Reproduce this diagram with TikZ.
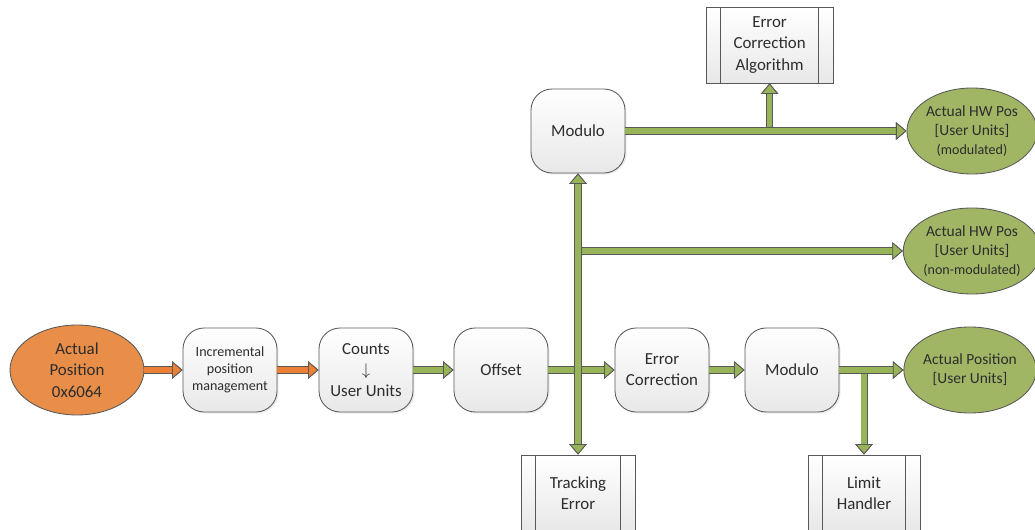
\documentclass[tikz,border=0pt]{standalone}
\usepackage{fontspec}
\setmainfont{Carlito}
\usetikzlibrary{arrows.meta,shapes.geometric,shadows}
\definecolor{flOrange} {RGB}{232,142, 72}
\definecolor{flOrangeA}{RGB}{236,128, 52}
\definecolor{flGreen}  {RGB}{160,182,100}
\definecolor{flGreenA} {RGB}{152,180, 88}
\definecolor{flEdge}   {RGB}{ 88, 88, 88}
\definecolor{flBox}    {RGB}{232,232,232}
\definecolor{flText}   {RGB}{ 45, 45, 45}
\tikzset{
  gtip/.tip={Triangle[length=7.5pt,width=12.5pt,line width=0.6pt,fill=flGreenA,color=flEdge]},
  otip/.tip={Triangle[length=7.5pt,width=12.5pt,line width=0.6pt,fill=flOrangeA,color=flEdge]}
}

\begin{document}
\begin{tikzpicture}[
  every node/.style={font=\fontsize{12}{15}\selectfont,text=flText},
  box/.style={draw=flEdge,line width=0.6pt,rounded corners=15pt,
              top color=white,bottom color=flBox,
              minimum width=2.35cm,minimum height=2.1cm,align=center,
              drop shadow={opacity=0.15,shadow xshift=0.04cm,shadow yshift=-0.04cm}},
  sub/.style={draw=flEdge,line width=0.6pt,top color=white,bottom color=flBox,
              minimum height=1.9cm,align=center,
              path picture={
                \draw[flEdge,line width=0.6pt]
                  ([xshift=0.36cm]path picture bounding box.north west) --
                  ([xshift=0.36cm]path picture bounding box.south west)
                  ([xshift=-0.36cm]path picture bounding box.north east) --
                  ([xshift=-0.36cm]path picture bounding box.south east);}},
  term/.style={ellipse,draw=flEdge,line width=0.6pt,inner sep=0pt,align=center,
               minimum width=3.1cm,minimum height=2.15cm,
               font=\fontsize{11}{13.5}\selectfont},
  src/.style={term,fill=flOrange,minimum width=3.35cm,minimum height=2.25cm,
              font=\fontsize{12}{15.3}\selectfont},
  dst/.style={term,fill=flGreen},
  fat/.style={line width=3.6pt,draw=flGreenA,-gtip,
              preaction={draw=flEdge,line width=5pt}},
  ofat/.style={line width=3.6pt,draw=flOrangeA,-otip,
               preaction={draw=flEdge,line width=5pt}}
]
\useasboundingbox (0,0) rectangle (25.875,13.225);

\node[src]  (AP)   at ( 1.925, 3.975) {Actual\\Position\\0x6064};
\node[box,font=\fontsize{10}{12.2}\selectfont]
            (IPM)  at ( 5.75 , 3.975) {Incremental\\position\\management};
\node[box]  (CU)   at ( 9.15 , 3.975) {Counts\\$\downarrow$\\User Units};
\node[box]  (OFS)  at (12.525, 3.975) {Offset};
\node[box]  (EC)   at (16.55 , 3.975) {Error\\Correction};
\node[box]  (MOD)  at (19.8  , 3.975) {Modulo};
\node[dst]  (APU)  at (24.25 , 3.975) {Actual Position\\{}[User Units]};

\node[box]  (MODU) at (14.45 , 9.95 ) {Modulo};
\node[sub,minimum width=3.175cm]
            (ECA)  at (19.24 ,12.1  ) {Error\\Correction\\Algorithm};
\node[dst]  (HWM)  at (24.3  , 9.95 ) {Actual HW Pos\\{}[User Units]\\{\fontsize{10}{12}\selectfont(modulated)}};
\node[dst]  (HWN)  at (24.3  , 6.95 ) {Actual HW Pos\\{}[User Units]\\{\fontsize{10}{12}\selectfont(non-modulated)}};

\node[sub,minimum width=2.85cm] (TE) at (14.45, 0.9) {Tracking\\Error};
\node[sub,minimum width=2.8cm]  (LH) at (21.6 , 0.9) {Limit\\Handler};

% branch points
\coordinate (j1) at (MODU.south |- HWN.west);
\coordinate (j2) at (ECA.south |- HWM.west);
\coordinate (j3) at (LH.north |- APU.west);

\draw[ofat] (AP.east)  -- (IPM.west);
\draw[ofat] (IPM.east) -- (CU.west);
\draw[fat]  (CU.east)  -- (OFS.west);
\draw[fat]  (j3)       -- (LH.north);
\draw[fat]  (j2)       -- (ECA.south);
\draw[fat]  (j1)       -- (HWN.west);
\draw[fat]  (OFS.east) -- (EC.west);
\draw[fat]  (EC.east)  -- (MOD.west);
\draw[fat]  (MOD.east) -- (APU.west);
\draw[fat]  (MODU.east) -- (HWM.west);
\draw[fat,gtip-gtip] (MODU.south) -- (TE.north);
\end{tikzpicture}
\end{document}
